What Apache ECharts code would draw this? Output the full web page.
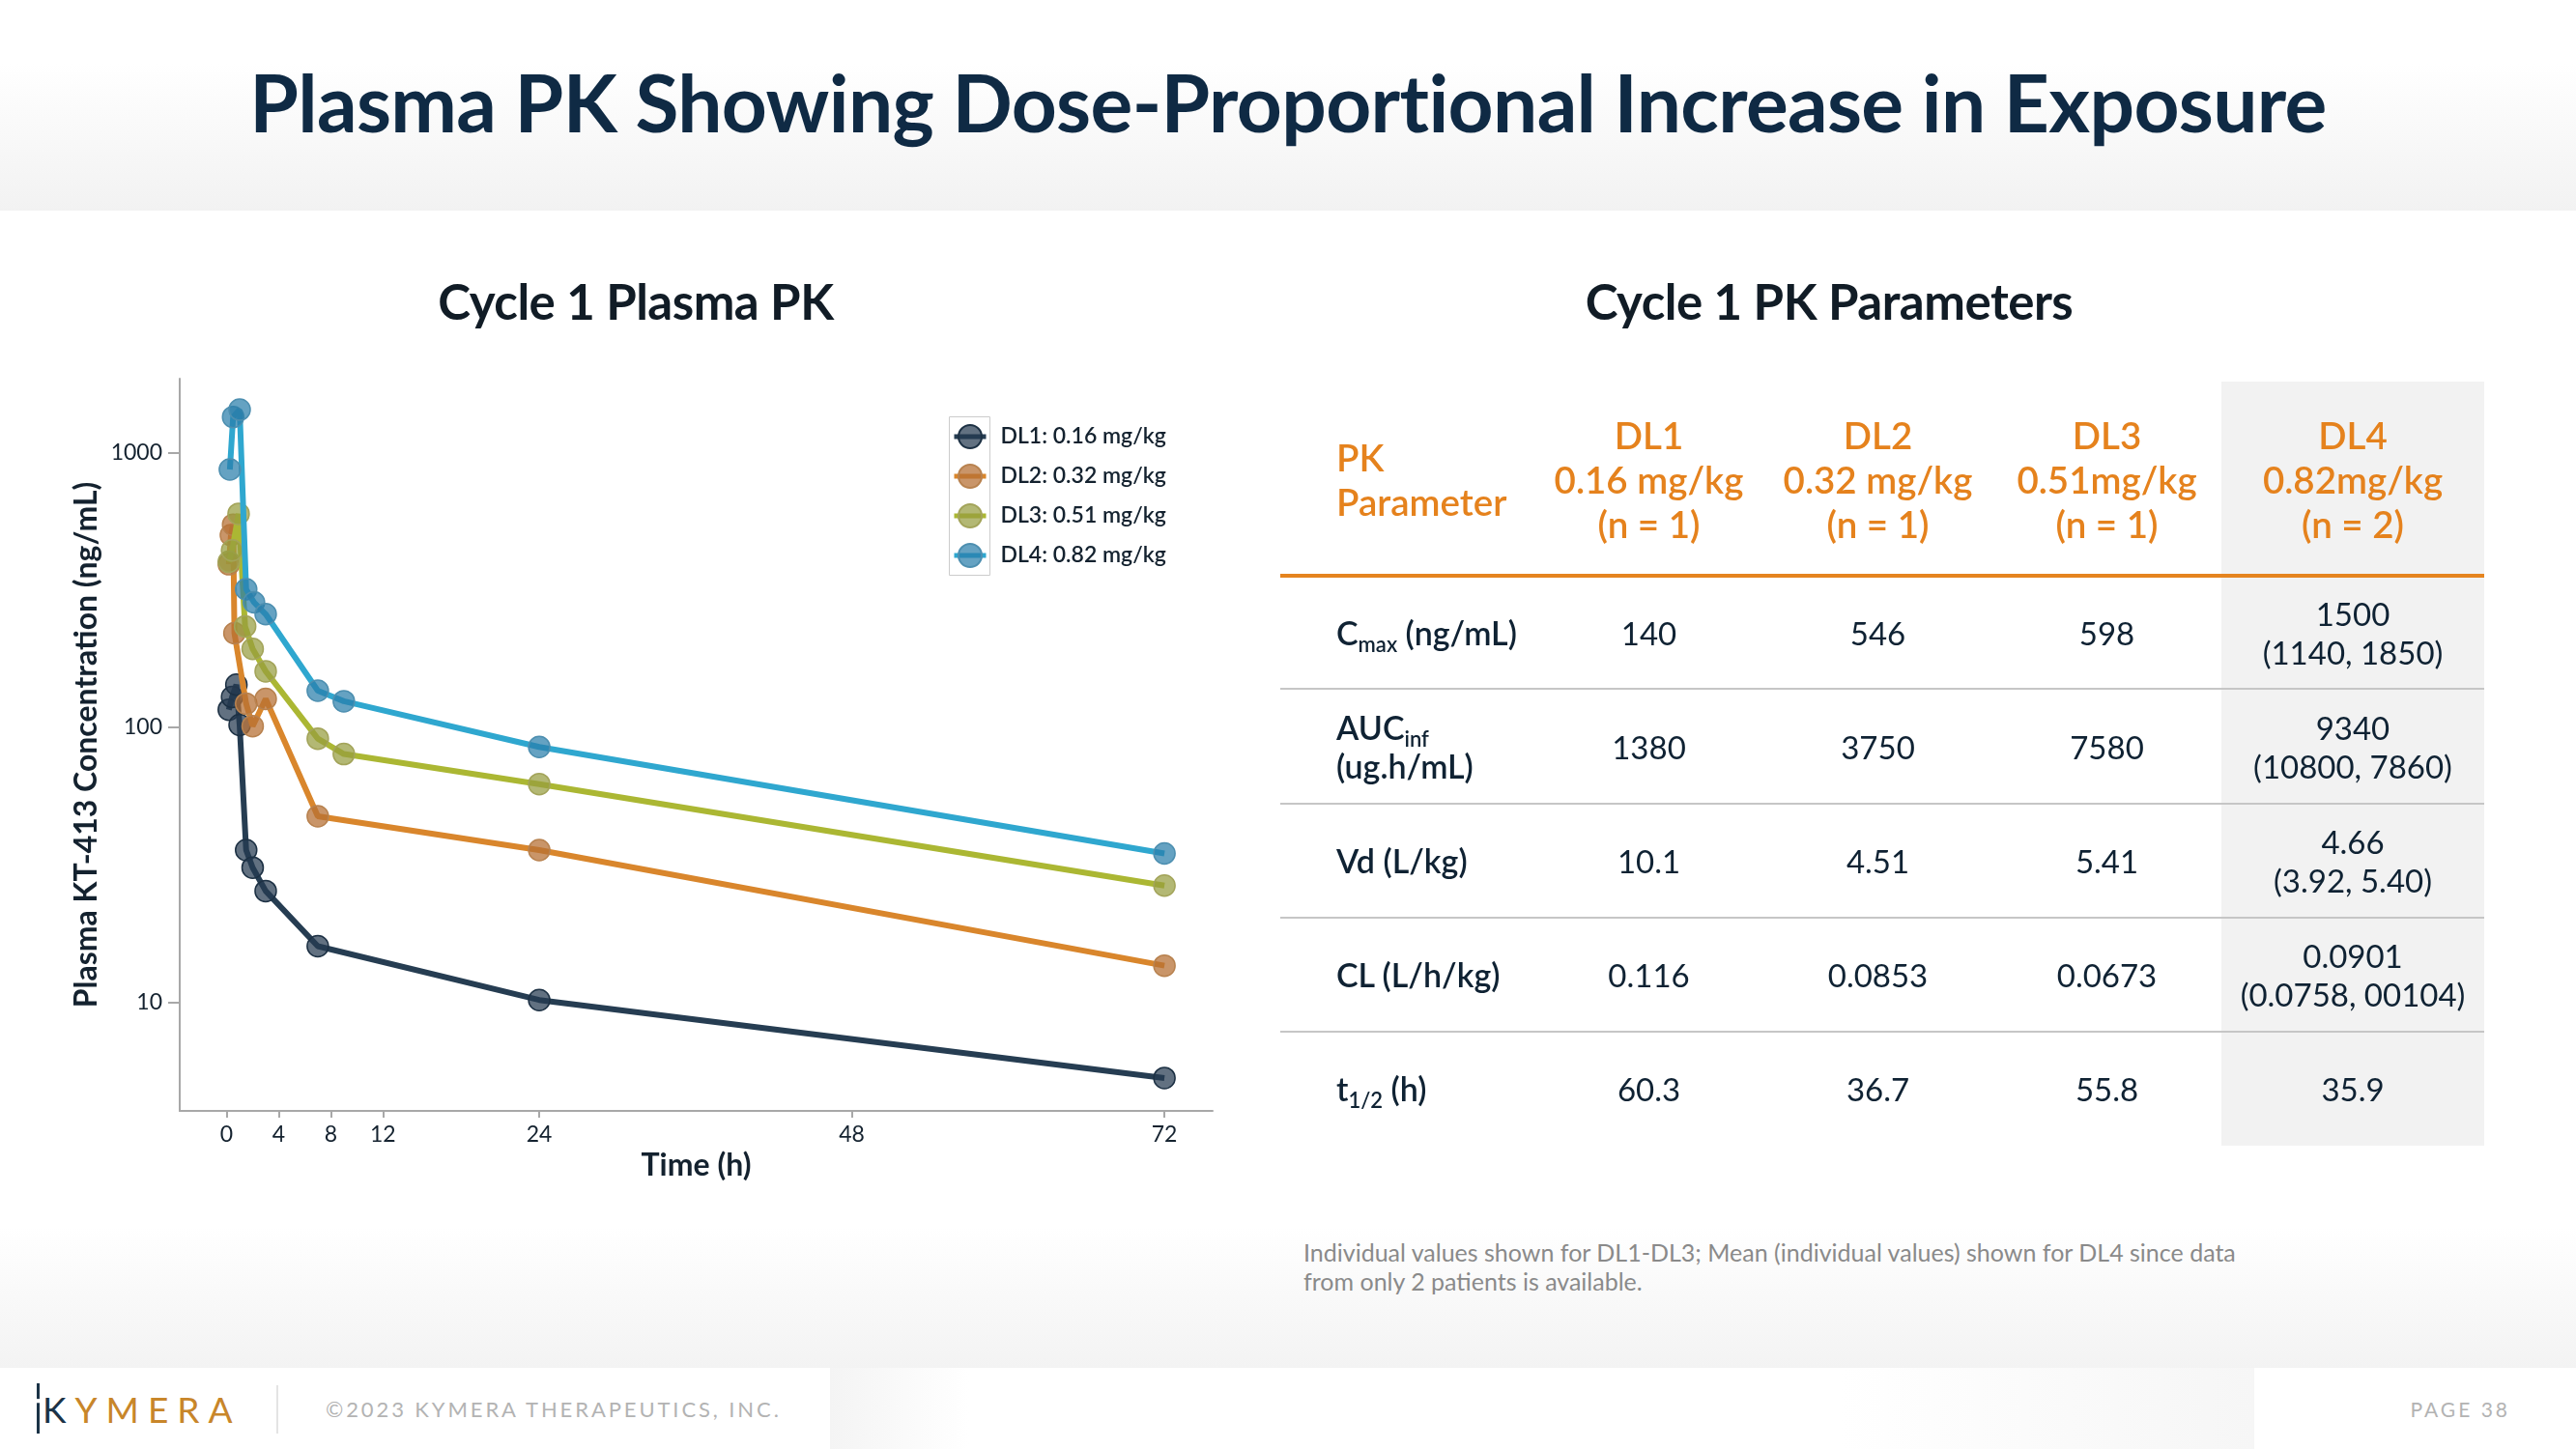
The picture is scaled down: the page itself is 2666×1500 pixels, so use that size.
<!DOCTYPE html>
<html><head><meta charset="utf-8">
<script src="https://cdn.jsdelivr.net/npm/echarts@6/dist/echarts.min.js"></script>
<style>
html,body{margin:0;padding:0;}
body{width:2666px;height:1500px;position:relative;overflow:hidden;background:#fff;font-family:Lato,'Noto Sans',sans-serif;}
.abs{position:absolute;}
#header{left:0;top:0;width:2666px;height:218px;background:linear-gradient(#ffffff 0%,#ffffff 30%,#f2f2f2 100%);}
#title{left:0;top:64px;width:2666px;text-align:center;font-size:82px;line-height:82px;font-weight:700;color:#0f2a44;letter-spacing:-0.65px;white-space:nowrap;}
#footGrad{left:0;top:1270px;width:2666px;height:146px;background:linear-gradient(#ffffff 0%,#f3f3f3 100%);}
#footBar{left:0;top:1416px;width:2666px;height:84px;background:#fff;}
.ftBlock1{left:859px;top:1416px;width:144px;height:84px;background:linear-gradient(90deg,#f4f4f4,#ffffff);}
.ftBlock2{left:1905px;top:1416px;width:428px;height:84px;background:linear-gradient(90deg,#ffffff,#f6f6f6);}
.subTitle{font-size:51px;line-height:52px;font-weight:700;color:#111c26;text-align:center;width:800px;white-space:nowrap;letter-spacing:-0.5px;}
#chart{left:0;top:0;width:2666px;height:1500px;z-index:1;}
.cell{position:absolute;display:flex;align-items:center;justify-content:center;text-align:center;color:#0f2233;font-size:33px;line-height:40px;white-space:nowrap;}
.lab{justify-content:flex-start;text-align:left;font-weight:600;font-size:34px;}
.hdr{color:#e5821d;font-weight:600;font-size:38.5px;line-height:46px;}
sub{font-size:22px;line-height:0;vertical-align:-7px;}
.hline{position:absolute;left:1325px;width:1246px;}
#note{left:1349px;top:1281px;font-size:25px;line-height:30px;color:#8a8a8a;white-space:nowrap;}
#logo{left:44px;top:1440px;font-size:37px;line-height:37px;letter-spacing:9px;color:#c8862a;font-weight:400;white-space:nowrap;}
#logoBar{left:38px;top:1432px;width:3px;height:52px;background:linear-gradient(#1b3347 0%,#1b3347 30%,#fff 32%,#fff 38%,#1b3347 40%,#1b3347 100%);}
#sep{left:286px;top:1434px;width:2px;height:50px;background:#e4e4e4;}
#copy{left:337px;top:1448px;font-size:22px;line-height:22px;letter-spacing:2.9px;color:#b3b3b3;white-space:nowrap;}
#page{right:68px;top:1448px;font-size:21px;line-height:21px;letter-spacing:3px;color:#b3b3b3;white-space:nowrap;}
</style></head>
<body>
<div id="header" class="abs"></div>
<div id="title" class="abs">Plasma PK Showing Dose-Proportional Increase in Exposure</div>
<div id="footGrad" class="abs"></div>
<div id="footBar" class="abs"></div>
<div class="abs ftBlock1"></div>
<div class="abs ftBlock2"></div>
<div class="abs subTitle" style="left:258px;top:286px;">Cycle 1 Plasma PK</div>
<div class="abs subTitle" style="left:1493px;top:286px;">Cycle 1 PK Parameters</div>
<div id="chart" class="abs"></div>
<div id="table" class="abs" style="left:0;top:0;width:0;height:0;z-index:2;"></div>
<div id="note" class="abs">Individual values shown for DL1-DL3; Mean (individual values) shown for DL4 since data<br>from only 2 patients is available.</div>
<div id="logoBar" class="abs"></div>
<div id="logo" class="abs"><span style="color:#1b3347">K</span>YMERA</div>
<div id="sep" class="abs"></div>
<div id="copy" class="abs">©2023 KYMERA THERAPEUTICS, INC.</div>
<div id="page" class="abs">PAGE 38</div>
<script>
// ---- chart data ----
const dl1Time = [0.17, 0.42, 0.75, 1.0, 1.5, 2.0, 3.0, 7.0, 24, 72];
const dl1Conc = [116, 129, 143, 102, 35.8, 30.9, 25.4, 16.0, 10.2, 5.31];
const dl2Time = [0.17, 0.33, 0.5, 0.6, 1.5, 2.0, 3.0, 7.0, 24, 72];
const dl2Conc = [392, 500, 546, 220, 122, 101, 127, 47.5, 35.8, 13.6];
const dl3Time = [0.17, 0.42, 0.92, 1.42, 2.0, 3.0, 7.0, 9.0, 24, 72];
const dl3Conc = [400, 440, 598, 233, 193, 160, 91, 80, 62.2, 26.6];
const dl4Time = [0.25, 0.5, 1.0, 1.5, 2.1, 3.0, 7.0, 9.0, 24, 72];
const dl4Conc = [867, 1345, 1430, 318, 285, 258, 136, 124.5, 84.9, 34.8];
const seriesNames = ['DL1: 0.16 mg/kg', 'DL2: 0.32 mg/kg', 'DL3: 0.51 mg/kg', 'DL4: 0.82 mg/kg'];
const xTickValues = [0, 4, 8, 12, 24, 48, 72];
const yTickValues = [10, 100, 1000];

// ---- table data ----
const headerDose = ['DL1', 'DL2', 'DL3', 'DL4'];
const headerMgKg = ['0.16 mg/kg', '0.32 mg/kg', '0.51mg/kg', '0.82mg/kg'];
const headerN = ['(n = 1)', '(n = 1)', '(n = 1)', '(n = 2)'];
const paramLabels = ['C<sub>max</sub> (ng/mL)', 'AUC<sub>inf</sub><br>(ug.h/mL)', 'Vd (L/kg)', 'CL (L/h/kg)', 't<sub>1/2</sub> (h)'];
const dl1Params = ['140', '1380', '10.1', '0.116', '60.3'];
const dl2Params = ['546', '3750', '4.51', '0.0853', '36.7'];
const dl3Params = ['598', '7580', '5.41', '0.0673', '55.8'];
const dl4Mean = ['1500', '9340', '4.66', '0.0901', '35.9'];
const dl4Indiv = ['(1140, 1850)', '(10800, 7860)', '(3.92, 5.40)', '(0.0758, 00104)', ''];

// ---- styles ----
const lineColors = ['#263d52', '#d9862c', '#abb733', '#2fa7cf'];
const markerColors = ['rgba(38,58,80,0.72)', 'rgba(182,112,52,0.74)', 'rgba(150,156,62,0.72)', 'rgba(42,126,170,0.72)'];
const markerBorders = ['#1d3144', '#b8824f', '#a3a45a', '#4d8fb0'];

const times = [dl1Time, dl2Time, dl3Time, dl4Time];
const concs = [dl1Conc, dl2Conc, dl3Conc, dl4Conc];
const textColor = '#14222f';
const axisColor = '#a8a8a8';

const series = seriesNames.map((name, i) => ({
  name: name,
  type: 'line',
  data: times[i].map((t, k) => [t, concs[i][k]]),
  symbol: 'circle',
  symbolSize: 22,
  lineStyle: { color: lineColors[i], width: 6 },
  itemStyle: { color: markerColors[i], borderColor: markerBorders[i], borderWidth: 1.5 },
  emphasis: { disabled: true },
  z: 2 + i
}));

const chart = echarts.init(document.getElementById('chart'), null, { renderer: 'canvas', width: 2666, height: 1500 });
chart.setOption({
  animation: false,
  backgroundColor: 'transparent',
  textStyle: { fontFamily: 'Lato' },
  grid: { left: 186, top: 392, width: 1069, height: 758, containLabel: false },
  legend: {
    orient: 'vertical',
    left: 985, top: 439, padding: 0,
    itemWidth: 33, itemHeight: 30, itemGap: 15,
    data: seriesNames,
    textStyle: { fontFamily: 'Lato', fontSize: 23, fontWeight: 600, color: textColor, padding: [0, 0, 0, 10] },
    lineStyle: { width: 5 },
    selectedMode: false
  },
  graphic: [{
    type: 'rect', left: 980, top: 429, shape: { width: 42, height: 164 },
    style: { fill: 'none', stroke: '#cccccc', lineWidth: 1 }, silent: true
  }],
  xAxis: {
    type: 'value', min: -3.6, max: 75.7,
    name: 'Time (h)', nameLocation: 'middle', nameGap: 35,
    nameTextStyle: { fontFamily: 'Lato', fontSize: 32, fontWeight: 700, color: textColor },
    axisLine: { show: true, onZero: false, lineStyle: { color: axisColor, width: 2 } },
    axisTick: { show: true, length: 7, lineStyle: { color: axisColor, width: 2 }, customValues: xTickValues },
    axisLabel: { customValues: xTickValues, fontSize: 23, color: textColor, margin: 13, fontFamily: 'Lato' },
    splitLine: { show: false }
  },
  yAxis: {
    type: 'log', logBase: 10, min: 4.03, max: 1854,
    name: 'Plasma KT-413 Concentration (ng/mL)', nameLocation: 'middle', nameGap: 80,
    nameTextStyle: { fontFamily: 'Lato', fontSize: 32, fontWeight: 700, color: textColor },
    axisLine: { show: true, onZero: false, lineStyle: { color: axisColor, width: 2 } },
    axisTick: { show: true, length: 12, lineStyle: { color: axisColor, width: 2 }, customValues: yTickValues },
    axisLabel: { customValues: yTickValues, fontSize: 23, color: textColor, margin: 18, fontFamily: 'Lato',
      formatter: v => String(Math.round(v)) },
    splitLine: { show: false },
    minorTick: { show: false }
  },
  series: series
});

// ---- table ----
const tbl = document.getElementById('table');
function add(html, cls, left, top, width, height, extra) {
  const d = document.createElement('div');
  d.className = 'cell ' + (cls || '');
  d.style.left = left + 'px'; d.style.top = top + 'px';
  d.style.width = width + 'px'; d.style.height = height + 'px';
  if (extra) d.style.cssText += extra;
  d.innerHTML = html ? '<div>' + html + '</div>' : '';
  tbl.appendChild(d);
  return d;
}
// DL4 shaded column
add('', '', 2299, 395, 272, 791, 'background:#f2f2f2;');
const colLeft = [1588, 1825, 2062, 2299];
const colWidth = [237, 237, 237, 272];
const rowTops = [596, 713, 832, 950, 1068];
const rowBottoms = [713, 832, 950, 1068, 1186];
// header
add('PK<br>Parameter', 'hdr lab', 1383, 395, 200, 201, 'font-size:38.5px;');
headerDose.forEach((h, j) => {
  add(h + '<br>' + headerMgKg[j] + '<br>' + headerN[j], 'hdr', colLeft[j], 395, colWidth[j], 201);
});
// orange rule
const o = document.createElement('div'); o.className = 'hline';
o.style.cssText += 'top:594px;height:4px;background:#e5841f;'; tbl.appendChild(o);
// body rows
const cols = [dl1Params, dl2Params, dl3Params];
paramLabels.forEach((lab, i) => {
  const h = rowBottoms[i] - rowTops[i];
  add(lab, 'lab', 1383, rowTops[i], 205, h);
  cols.forEach((c, j) => add(c[i], '', colLeft[j], rowTops[i], colWidth[j], h));
  add(dl4Mean[i] + (dl4Indiv[i] ? '<br>' + dl4Indiv[i] : ''), '', colLeft[3], rowTops[i], colWidth[3], h);
  if (i < paramLabels.length - 1) {
    const l = document.createElement('div'); l.className = 'hline';
    l.style.cssText += 'top:' + (rowBottoms[i] - 1) + 'px;height:2px;background:#c6c6c6;';
    tbl.appendChild(l);
  }
});
</script>
</body></html>
